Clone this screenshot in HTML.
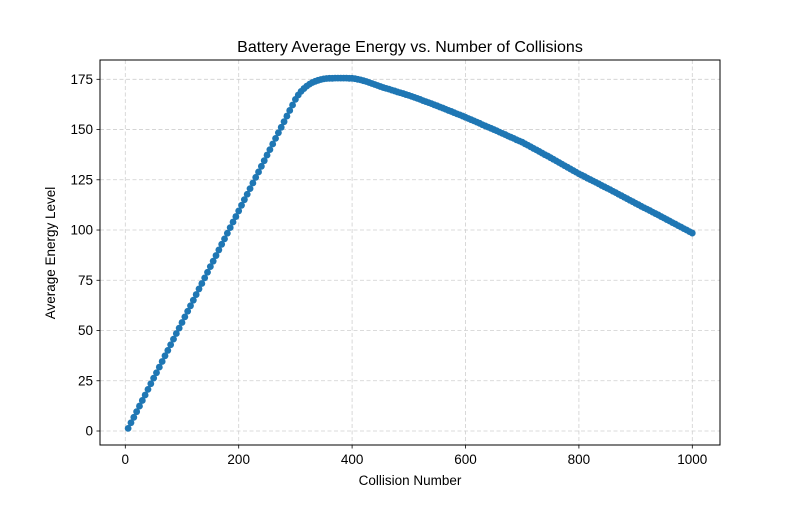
<!DOCTYPE html>
<html><head><meta charset="utf-8"><style>
body{margin:0;background:#fff;}
svg text{font-family:"Liberation Sans","DejaVu Sans",sans-serif;fill:#000;}
</style></head><body>
<svg id="chart" width="800" height="500" xmlns="http://www.w3.org/2000/svg">
<rect width="800" height="500" fill="#fff"/>
<g id="grid"></g>
<g id="series"></g>
<rect x="100" y="60" width="620" height="385" fill="none" stroke="#000" stroke-width="1"/>
<g id="ticks"></g>
<text x="410" y="52" font-size="16" text-anchor="middle">Battery Average Energy vs. Number of Collisions</text>
<text x="410" y="485" font-size="13.5" text-anchor="middle">Collision Number</text>
<text transform="translate(55,253) rotate(-90)" font-size="13.5" text-anchor="middle">Average Energy Level</text>
</svg>
<script>
const xTicks=[0,200,400,600,800,1000];
const yTicks=[0,25,50,75,100,125,150,175];
const riseValues=[1.3,4.1,6.8,9.6,12.4,15.2,17.9,20.7,23.5,26.3,29.0,31.8,34.6,37.4,40.1,42.9,45.7,48.5,51.2,54.0,56.8,59.6,62.3,65.1,67.9,70.7,73.4,76.2,79.0,81.8,84.5,87.3,90.1,92.9,95.6,98.4,101.2,104.0,106.7,109.5,112.3,115.1,117.8,120.6,123.4,126.2,128.9,131.7,134.5,137.3,140.0,142.8,145.6,148.4,151.1,153.9,156.7,159.5,162.2,165.0];
const peakValues=[167.2,169.0,170.4,171.6,172.6,173.4,174.0,174.5,174.9,175.2,175.4,175.5,175.5,175.6,175.6,175.6,175.6,175.6,175.5,175.5];
const declineValues=[175.3,175.0,174.7,174.3,173.9,173.4,172.9,172.4,171.9,171.4,
170.9,170.5,170.1,169.6,169.2,168.7,168.3,167.9,167.4,167.0,
166.5,166.0,165.5,165.0,164.4,163.9,163.4,162.9,162.3,161.8,
161.2,160.7,160.1,159.5,159.0,158.4,157.8,157.3,156.7,156.1,
155.5,154.9,154.3,153.7,153.1,152.4,151.8,151.2,150.6,150.0,
149.4,148.7,148.1,147.5,146.8,146.2,145.6,144.9,144.3,143.7,
142.9,142.2,141.4,140.6,139.9,139.1,138.3,137.5,136.8,136.0,
135.2,134.4,133.6,132.8,132.0,131.2,130.4,129.6,128.8,128.0,
127.3,126.6,125.8,125.1,124.4,123.7,123.0,122.2,121.5,120.8,
120.1,119.3,118.6,117.8,117.1,116.3,115.6,114.8,114.1,113.3,
112.6,111.8,111.1,110.4,109.7,108.9,108.2,107.5,106.7,106.0,
105.2,104.5,103.7,103.0,102.2,101.5,100.7,100.0,99.2,98.5];
const collisionStep=5;

const NS="http://www.w3.org/2000/svg";
function xs(v){return 125.3+v*(692.3-125.3)/1000;}
function ys(v){return 431+(-v)*(351.7/175);}
function mk(tag,attrs,parent){const e=document.createElementNS(NS,tag);for(const k in attrs)e.setAttribute(k,attrs[k]);parent.appendChild(e);return e;}
const grid=document.getElementById('grid'),ticks=document.getElementById('ticks'),series=document.getElementById('series');
xTicks.forEach(t=>{
  const X=xs(t);
  const g=mk('line',{x1:X,x2:X,y1:60,y2:445,stroke:'#cfcfcf','stroke-dasharray':'4,2.5','stroke-width':0.8},grid);
  
  
  const tk=mk('line',{x1:X,x2:X,y1:445,y2:448.5,stroke:'#000','stroke-width':0.8},ticks);
  
  
  const tx=mk('text',{x:X,y:464,'font-size':13.5,'text-anchor':'middle'},ticks);
  tx.textContent=t;
  
  
});
yTicks.forEach(t=>{
  const Y=ys(t);
  const g=mk('line',{x1:100,x2:720,y1:Y,y2:Y,stroke:'#cfcfcf','stroke-dasharray':'4,2.5','stroke-width':0.8},grid);
  
  
  const tk=mk('line',{x1:96.5,x2:100,y1:Y,y2:Y,stroke:'#000','stroke-width':0.8},ticks);
  
  
  const tx=mk('text',{x:93,y:Y+4.5,'font-size':13.5,'text-anchor':'end'},ticks);
  tx.textContent=t;
  
  
});
const values=riseValues.concat(peakValues,declineValues);
let d='';
values.forEach((v,i)=>{const c=(i+1)*collisionStep;d+=(i?'L':'M')+xs(c).toFixed(2)+','+ys(v).toFixed(2);});
const line=mk('path',{d:d,fill:'none',stroke:'#1f77b4','stroke-width':1.5},series);


values.forEach((v,i)=>{
  const c=(i+1)*collisionStep;
  const p=mk('circle',{cx:xs(c),cy:ys(v),r:3.4,fill:'#1f77b4'},series);
  
  
});
</script>
</body></html>
